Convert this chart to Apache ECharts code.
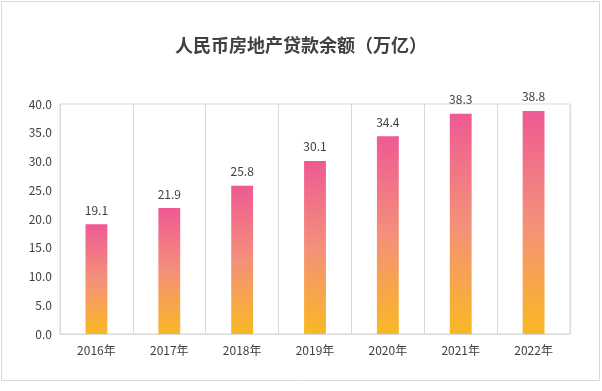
<!DOCTYPE html>
<html><head><meta charset="utf-8">
<script src="https://cdn.jsdelivr.net/npm/echarts@6/dist/echarts.min.js"></script>
<style>html,body{margin:0;padding:0;background:#fff}#c{width:602px;height:391px}</style>
</head><body><div id="c"></div>
<script>
const categories = ['2016年','2017年','2018年','2019年','2020年','2021年','2022年'];
const values = [19.1, 21.9, 25.8, 30.1, 34.4, 38.3, 38.8];
const yTicks = [0, 5, 10, 15, 20, 25, 30, 35, 40];
const titleText = '人民币房地产贷款余额（万亿）';

const font = '"Noto Sans CJK SC", "Noto Sans", sans-serif';
const chart = echarts.init(document.getElementById('c'), null, {renderer: 'canvas'});
chart.setOption({
  backgroundColor: '#fff',
  graphic: [{type: 'rect', shape: {x: 1.5, y: 1.5, width: 598, height: 379}, style: {fill: null, stroke: '#d9d9d9', lineWidth: 1}, silent: true}],
  title: {text: titleText, left: 'center', top: 31,
    textStyle: {fontFamily: font, fontSize: 18, fontWeight: 'bold', color: '#404040'}},
  grid: {left: 60, right: 32, top: 104, bottom: 57, show: true, borderColor: '#d9d9d9', borderWidth: 1},
  xAxis: {type: 'category', data: categories,
    axisLine: {lineStyle: {color: '#d9d9d9'}}, axisTick: {show: false},
    splitLine: {show: true, lineStyle: {color: '#d9d9d9'}},
    axisLabel: {fontFamily: font, fontSize: 12, color: '#404040', margin: 10}},
  yAxis: {type: 'value', min: yTicks[0], max: yTicks[yTicks.length-1], interval: 5,
    axisLine: {show: false}, axisTick: {show: false}, splitLine: {show: false},
    axisLabel: {fontFamily: font, fontSize: 12, color: '#404040', margin: 8,
      formatter: v => v.toFixed(1)}},
  series: [{type: 'bar', data: values, barWidth: '30%',
    itemStyle: {color: new echarts.graphic.LinearGradient(0, 0, 0, 1, [
      {offset: 0, color: '#ee5a93'}, {offset: 0.5, color: '#f4907a'}, {offset: 1, color: '#f9b824'}])},
    label: {show: true, position: 'top', distance: 8, fontFamily: font, fontSize: 12, color: '#404040',
      formatter: p => p.value.toFixed(1)}}]
});
</script></body></html>
